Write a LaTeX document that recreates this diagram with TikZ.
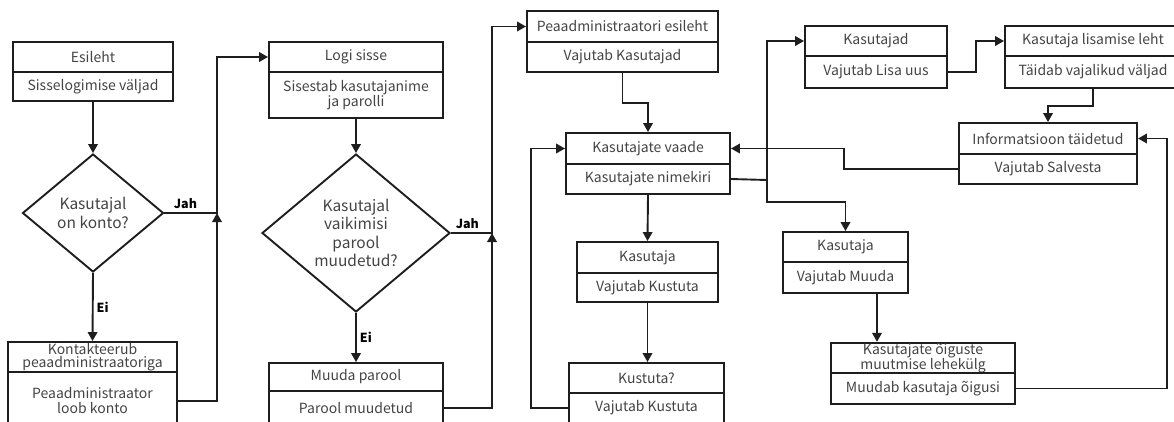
\documentclass[tikz,border=0pt]{standalone}
\usepackage{fontspec}
\setmainfont{Noto Sans CJK JP}
\usetikzlibrary{shapes.geometric,arrows.meta}
\definecolor{txt}{HTML}{444444}
\definecolor{ink}{HTML}{1E1E1E}

\begin{document}
\begin{tikzpicture}[x=1pt,y=-1pt,
  cell/.style={draw=ink, line width=1.9pt, text=txt, inner sep=0pt,
    align=center, font=\fontsize{14}{15}\selectfont},
  tight/.style={font=\fontsize{14}{13.5}\selectfont},
  dec/.style={diamond, draw=ink, line width=1.9pt, text=txt, inner sep=0pt,
    align=center, font=\fontsize{15.5}{18.5}\selectfont},
  link/.style={draw=ink, line width=1.9pt},
  arr/.style={link, -{Triangle[length=9pt,width=9.5pt]}},
  lab/.style={font=\bfseries\fontsize{12.5}{14}\selectfont, text=black, inner sep=3pt}]

\useasboundingbox (0,0) rectangle (1174,421);
\clip (0,0) rectangle (1174,421);

% login column
\node[cell, minimum width=160pt, minimum height=30pt] (e1) at (93,57) {Esileht};
\node[cell, minimum width=160pt, minimum height=29pt] (e2) at (93,86.5) {Sisselogimise väljad};
\node[dec, minimum width=141pt, minimum height=118pt] (d1) at (93,213) {Kasutajal\\on konto?};
\node[cell, tight, minimum width=169pt, minimum height=30pt] (k1) at (92.5,357) {Kontakteerub\\peaadministraatoriga};
\node[cell, minimum width=169pt, minimum height=58pt] (k2) at (92.5,401) {Peaadministraator\\loob konto};

% password column
\node[cell, minimum width=174pt, minimum height=30pt] (l1) at (356,57) {Logi sisse};
\node[cell, tight, minimum width=174pt, minimum height=46pt] (l2) at (356,95) {Sisestab kasutajanime\\ja parolli};
\node[dec, minimum width=188pt, minimum height=158pt] (d2) at (356,233) {Kasutajal\\vaikimisi\\parool\\muudetud?};
\node[cell, minimum width=174pt, minimum height=28pt] (m1) at (356,377) {Muuda parool};
\node[cell, minimum width=174pt, minimum height=34pt] (m2) at (356,408) {Parool muudetud};

% administrator pages
\node[cell, minimum width=191pt, minimum height=31pt] (p1) at (622.5,26.5) {Peaadministraatori esileht};
\node[cell, minimum width=191pt, minimum height=30pt] (p2) at (622.5,57) {Vajutab Kasutajad};
\node[cell, minimum width=164pt, minimum height=31pt] (v1) at (648,148.5) {Kasutajate vaade};
\node[cell, minimum width=164pt, minimum height=30pt] (v2) at (648,179) {Kasutajate nimekiri};
\node[cell, minimum width=141pt, minimum height=31pt] (u1) at (647.5,257.5) {Kasutaja};
\node[cell, minimum width=141pt, minimum height=29pt] (u2) at (647.5,287.5) {Vajutab Kustuta};
\node[cell, minimum width=155pt, minimum height=30pt] (q1) at (646.5,378) {Kustuta?};
\node[cell, minimum width=155pt, minimum height=30pt] (q2) at (646.5,408) {Vajutab Kustuta};

% adding and editing users
\node[cell, minimum width=142pt, minimum height=30pt] (s1) at (876,41) {Kasutajad};
\node[cell, minimum width=142pt, minimum height=32pt] (s2) at (876,72) {Vajutab Lisa uus};
\node[cell, minimum width=176pt, minimum height=30pt] (a1) at (1093,41) {Kasutaja lisamise leht};
\node[cell, minimum width=176pt, minimum height=32pt] (a2) at (1093,72) {Täidab vajalikud väljad};
\node[cell, minimum width=178pt, minimum height=31pt] (i1) at (1048,138.5) {Informatsioon täidetud};
\node[cell, minimum width=178pt, minimum height=30pt] (i2) at (1048,169) {Vajutab Salvesta};
\node[cell, minimum width=125pt, minimum height=30pt] (c1) at (845.5,247) {Kasutaja};
\node[cell, minimum width=125pt, minimum height=31pt] (c2) at (845.5,277.5) {Vajutab Muuda};
\node[cell, tight, minimum width=184pt, minimum height=30pt] (r1) at (923,358) {Kasutajate õiguste\\muutmise lehekülg};
\node[cell, minimum width=184pt, minimum height=31pt] (r2) at (923,388.5) {Muudab kasutaja õigusi};

% junction points
\coordinate (ja) at (217,213);
\coordinate (jb) at (492,233);
\coordinate (hub) at (767,180);
\coordinate (mo) at ([xshift=31.5pt]c2.south);

% login flow
\draw[arr] (e2.south) -- (d1.north);
\draw[arr] (d1.south) -- node[lab, right] {Ei} (k1.north);
\draw[arr] (d1.east) -- node[lab, above, pos=0.4] {Jah} (ja) |- (l1.west);
\draw[arr] (k2.east) -| (ja);

% password flow
\draw[arr] (l2.south) -- (d2.north);
\draw[arr] (d2.south) -- node[lab, right] {Ei} (m1.north);
\draw[arr] (d2.east) -- node[lab, above, pos=0.4] {Jah} (jb) |- (p1.west);
\draw[arr] (m2.east) -| (jb);

% user management
\draw[arr] (p2.south) -- ++(0,30) -| (v1.north);
\draw[arr] (v2.south) -- (u1.north);
\draw[arr] (u2.south) -- (u2.south |- q1.north);
\draw[arr] (q2.west) -- ++(-37,0) |- (v1.west);
\draw[link] (v2.east) -- (hub);
\draw[arr] (hub) |- (s1.west);
\draw[arr] (hub) -- ++(0,22) -| (c1.north);
\draw[arr] (s2.east) -- ++(28,0) |- (a1.west);
\draw[arr] (a2.south) -- ++(0,17) -| (i1.north);
\draw[arr] (i2.west) -- ++(-114,0) |- (v1.east);
\draw[arr] (mo) -- (mo |- r1.north);
\draw[arr] (r2.east) -- ++(151,0) |- (i1.east);
\end{tikzpicture}
\end{document}
